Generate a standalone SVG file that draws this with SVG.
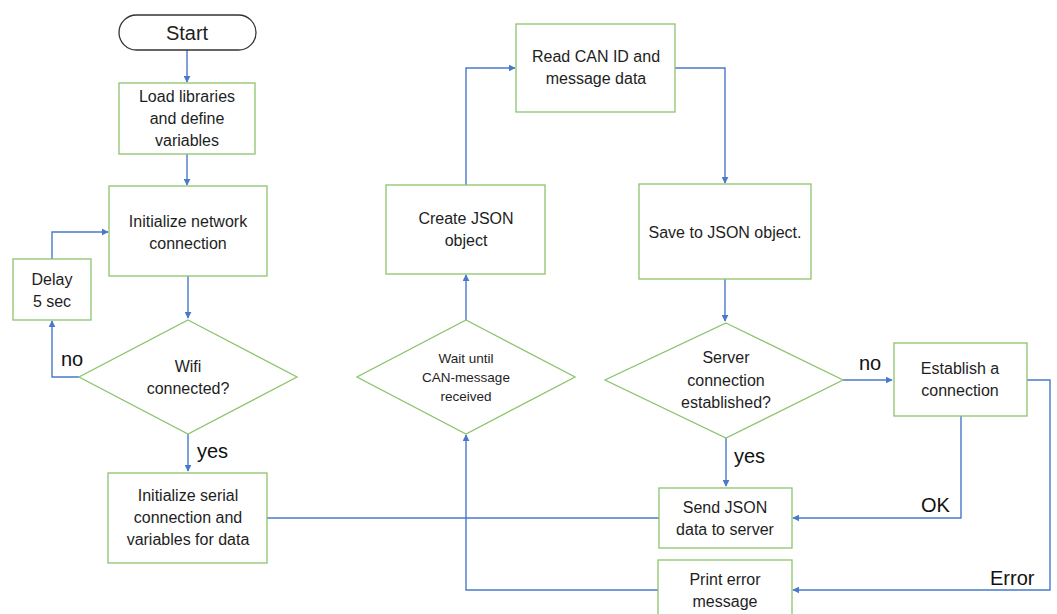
<svg xmlns="http://www.w3.org/2000/svg" width="1057" height="614" viewBox="0 0 1057 614">
<style>
.n{fill:#fff;stroke:#8cc46c;stroke-width:1.3}
.t{font-family:"Liberation Sans",Arial,sans-serif;font-size:16px;fill:#1e1e1e;text-anchor:middle}
.s{font-size:13.5px}
.l{font-family:"Liberation Sans",Arial,sans-serif;font-size:20px;fill:#111}
.c{fill:none;stroke:#4a78cc;stroke-width:1.4}
</style>
<defs>
<marker id="a" viewBox="0 0 10 10" refX="9" refY="5" markerWidth="7" markerHeight="7" orient="auto" markerUnits="userSpaceOnUse"><path d="M0,0L10,5L0,10z" fill="#4a78cc"/></marker>
</defs>
<rect width="1057" height="614" fill="#fff"/>
<g id="connectors">
<path class="c" d="M187,50V82" marker-end="url(#a)"/>
<path class="c" d="M187,154V185" marker-end="url(#a)"/>
<path class="c" d="M52,259V232H108" marker-end="url(#a)"/>
<path class="c" d="M188,276V318" marker-end="url(#a)"/>
<path class="c" d="M79,377H52V321" marker-end="url(#a)"/>
<path class="c" d="M188,434V471" marker-end="url(#a)"/>
<path class="c" d="M267,518H659"/>
<path class="c" d="M466,185V68H515" marker-end="url(#a)"/>
<path class="c" d="M675,68H725V183" marker-end="url(#a)"/>
<path class="c" d="M725,279V321" marker-end="url(#a)"/>
<path class="c" d="M843,380H892" marker-end="url(#a)"/>
<path class="c" d="M726,438V486" marker-end="url(#a)"/>
<path class="c" d="M961,416V518H793" marker-end="url(#a)"/>
<path class="c" d="M1027,380H1050V590H793" marker-end="url(#a)"/>
<path class="c" d="M658,590H466V435" marker-end="url(#a)"/>
<path class="c" d="M466,320V275" marker-end="url(#a)"/>
<text class="l" x="61" y="366">no</text>
<text class="l" x="197" y="458">yes</text>
<text class="l" x="859" y="370">no</text>
<text class="l" x="734" y="463">yes</text>
<text class="l" x="921" y="512">OK</text>
<text class="l" x="990" y="585">Error</text>
</g>
<g id="start"><rect class="n" x="119" y="15" width="137" height="35" rx="17.5" style="stroke:#333"/><text class="t" x="187" y="40" style="font-size:20px">Start</text></g>
<g id="load"><rect class="n" x="119" y="83" width="136" height="71"/><text class="t" x="187" y="102">Load libraries</text><text class="t" x="187" y="124">and define</text><text class="t" x="187" y="146">variables</text></g>
<g id="initnet"><rect class="n" x="109" y="186" width="158" height="90"/><text class="t" x="188" y="227">Initialize network</text><text class="t" x="188" y="249">connection</text></g>
<g id="delay"><rect class="n" x="13" y="259" width="78" height="61"/><text class="t" x="52" y="285">Delay</text><text class="t" x="52" y="307">5 sec</text></g>
<g id="wifi"><path class="n" d="M188,320L297,377L188,434L79,377Z"/><text class="t" x="188" y="372">Wifi</text><text class="t" x="188" y="394">connected?</text></g>
<g id="initserial"><rect class="n" x="108" y="473" width="159" height="90"/><text class="t" x="188" y="501">Initialize serial</text><text class="t" x="188" y="523">connection and</text><text class="t" x="188" y="545">variables for data</text></g>
<g id="create"><rect class="n" x="386" y="185" width="159" height="89"/><text class="t" x="466" y="224">Create JSON</text><text class="t" x="466" y="246">object</text></g>
<g id="wait"><path class="n" d="M466,320L575,377L466,434L357,377Z"/><text class="t s" x="466" y="363">Wait until</text><text class="t s" x="466" y="382">CAN-message</text><text class="t s" x="466" y="401">received</text></g>
<g id="read"><rect class="n" x="516" y="24" width="159" height="88"/><text class="t" x="596" y="62">Read CAN ID and</text><text class="t" x="596" y="84">message data</text></g>
<g id="save"><rect class="n" x="639" y="184" width="172" height="95"/><text class="t" x="725" y="238">Save to JSON object.</text></g>
<g id="server"><path class="n" d="M726,323L843,380L726,438L605,380Z"/><text class="t" x="726" y="363">Server</text><text class="t" x="726" y="386">connection</text><text class="t" x="726" y="408">established?</text></g>
<g id="establish"><rect class="n" x="894" y="343" width="133" height="73"/><text class="t" x="960" y="374">Establish a</text><text class="t" x="960" y="396">connection</text></g>
<g id="send"><rect class="n" x="659" y="488" width="133" height="60"/><text class="t" x="725" y="513">Send JSON</text><text class="t" x="725" y="535">data to server</text></g>
<g id="print"><rect class="n" x="658" y="560" width="134" height="60"/><text class="t" x="725" y="585">Print error</text><text class="t" x="725" y="607">message</text></g>
</svg>
